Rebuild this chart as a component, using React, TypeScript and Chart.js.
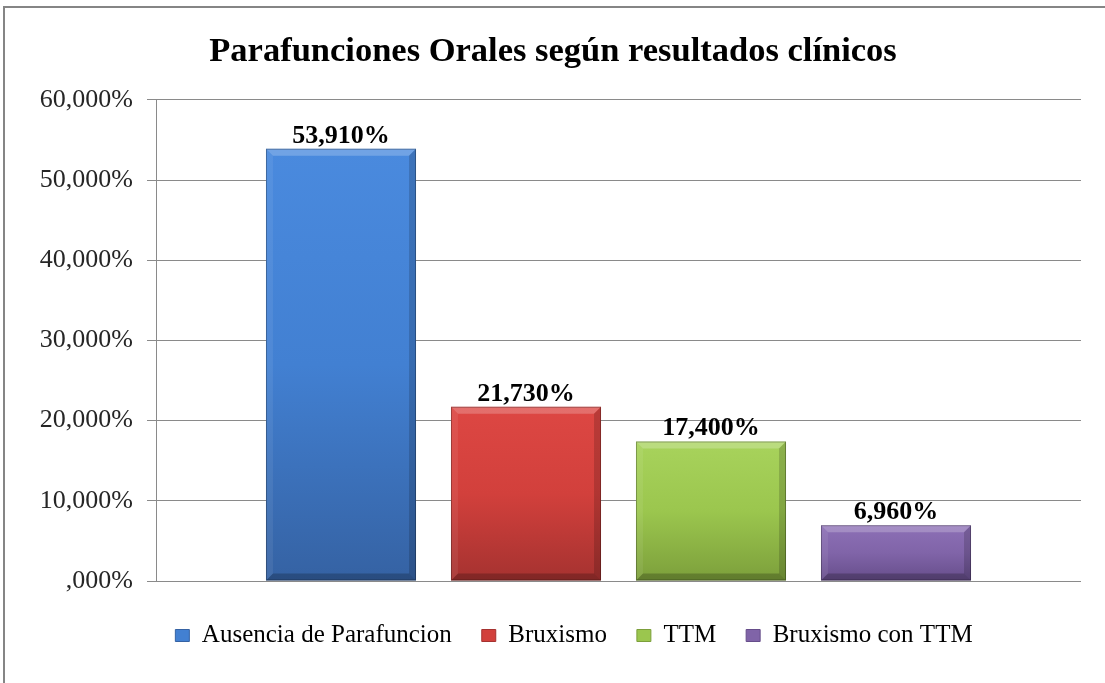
import React, { useEffect, useRef } from 'react';
import { Chart, registerables } from 'chart.js';

Chart.register(...registerables);

const categories = [''];
const seriesNames = ['Ausencia de Parafuncion', 'Bruxismo', 'TTM', 'Bruxismo con TTM'];
const seriesValues = [53.91, 21.73, 17.4, 6.96];
const seriesValueLabels = ['53,910%', '21,730%', '17,400%', '6,960%'];
const yTickValues = [0, 10, 20, 30, 40, 50, 60];
const yTickLabels = [',000%', '10,000%', '20,000%', '30,000%', '40,000%', '50,000%', '60,000%'];
const titleText = 'Parafunciones Orales según resultados clínicos';

const topColors = ['#4a8ade', '#dd4743', '#a8d35c', '#8d70b6'];
const baseColors = ['#4280d2', '#d2403c', '#9bc64e', '#8064a8'];
const bottomColors = ['#3562a3', '#a53230', '#7c9f3b', '#664d8a'];

const SERIF = "'Liberation Serif', 'Times New Roman', serif";

const bevelPlugin = {
  id: 'bevelAndLabels',
  afterLayout(chart: any) {
    const lg = chart.legend;
    if (lg) {
      lg.left += 21;
      lg.right += 21;
    }
  },
  beforeDraw(chart: any) {
    const c = chart.ctx;
    c.save();
    c.fillStyle = '#ffffff';
    c.fillRect(0, 0, chart.width, chart.height);
    c.strokeStyle = '#858585';
    c.lineWidth = 2;
    c.beginPath();
    c.moveTo(4, chart.height);
    c.lineTo(4, 7);
    c.lineTo(chart.width, 7);
    c.stroke();
    c.restore();
  },
  afterDatasetsDraw(chart: any) {
    const c = chart.ctx;
    chart.data.datasets.forEach((ds: any, i: number) => {
      const meta = chart.getDatasetMeta(i);
      meta.data.forEach((bar: any) => {
        const w = bar.width;
        const l = bar.x - w / 2;
        const r = bar.x + w / 2;
        const t = bar.y;
        const b = bar.base;
        const bv = 7;
        c.save();
        c.fillStyle = 'rgba(255,255,255,0.22)';
        c.beginPath();
        c.moveTo(l, t); c.lineTo(r, t); c.lineTo(r - bv, t + bv); c.lineTo(l + bv, t + bv); c.closePath(); c.fill();
        c.fillStyle = 'rgba(255,255,255,0.07)';
        c.beginPath();
        c.moveTo(l, t); c.lineTo(l + bv, t + bv); c.lineTo(l + bv, b - bv); c.lineTo(l, b); c.closePath(); c.fill();
        c.fillStyle = 'rgba(0,0,0,0.16)';
        c.beginPath();
        c.moveTo(r, t); c.lineTo(r, b); c.lineTo(r - bv, b - bv); c.lineTo(r - bv, t + bv); c.closePath(); c.fill();
        c.fillStyle = 'rgba(0,0,0,0.22)';
        c.beginPath();
        c.moveTo(l, b); c.lineTo(r, b); c.lineTo(r - bv, b - bv); c.lineTo(l + bv, b - bv); c.closePath(); c.fill();
        c.strokeStyle = 'rgba(0,0,0,0.28)';
        c.lineWidth = 1;
        c.strokeRect(l + 0.5, t + 0.5, w - 1, b - t - 1);
        c.fillStyle = '#000000';
        c.font = `bold 26px ${SERIF}`;
        c.textAlign = 'center';
        c.textBaseline = 'alphabetic';
        c.fillText(seriesValueLabels[i], bar.x, t - 6);
        c.restore();
      });
    });
  },
};

export default function App() {
  const canvasRef = useRef<HTMLCanvasElement | null>(null);

  useEffect(() => {
    if (!canvasRef.current) return;
    const chart = new Chart(canvasRef.current, {
      type: 'bar',
      data: {
        labels: categories,
        datasets: seriesNames.map((name, i) => ({
          label: name,
          data: [seriesValues[i]],
          backgroundColor: (ctx: any) => {
            const ch = ctx.chart;
            const ys = ch.scales && ch.scales.y;
            if (!ys || !ch.chartArea) return baseColors[i];
            const top = ys.getPixelForValue(seriesValues[i]);
            const bottom = ys.getPixelForValue(0);
            const g = ch.ctx.createLinearGradient(0, top, 0, bottom);
            g.addColorStop(0, topColors[i]);
            g.addColorStop(0.5, baseColors[i]);
            g.addColorStop(1, bottomColors[i]);
            return g;
          },
          borderWidth: 0,
          categoryPercentage: 0.8,
          barPercentage: 0.811,
        })),
      },
      options: {
        responsive: false,
        animation: false,
        devicePixelRatio: 1,
        layout: { padding: { top: 0, left: 25, right: 24, bottom: 25 } },
        plugins: {
          title: {
            display: true,
            text: titleText,
            color: '#000000',
            font: { family: SERIF, size: 34.5, weight: 'bold' },
            padding: { top: 31.5, bottom: 27 },
          },
          legend: {
            display: true,
            position: 'bottom',
            title: { display: true, text: ' ', font: { size: 12, lineHeight: 1 }, padding: 0 },
            labels: {
              boxWidth: 14,
              boxHeight: 12,
              padding: 30,
              color: '#000000',
              font: { family: SERIF, size: 25 },
              generateLabels: (ch: any) =>
                ch.data.datasets.map((ds: any, i: number) => ({
                  text: ds.label,
                  fillStyle: baseColors[i],
                  strokeStyle: bottomColors[i],
                  lineWidth: 1,
                  hidden: false,
                  datasetIndex: i,
                  fontColor: '#000000',
                })),
            },
          },
          tooltip: { enabled: false },
        },
        scales: {
          x: { display: false },
          y: {
            min: 0,
            max: 60,
            ticks: {
              stepSize: 10,
              padding: 14,
              color: '#262626',
              font: { family: SERIF, size: 26 },
              callback: (v: any) => {
                const idx = yTickValues.indexOf(Number(v));
                return idx >= 0 ? yTickLabels[idx] : '';
              },
            },
            grid: { color: '#8a8a8a', lineWidth: 1, tickLength: 9, drawTicks: true },
            border: { color: '#8a8a8a', width: 1 },
            afterFit: (s: any) => {
              s.width = 131;
            },
          },
        },
      },
      plugins: [bevelPlugin],
    } as any);
    return () => chart.destroy();
  }, []);

  return (
    <div style={{ position: 'absolute', left: 0, top: 0, width: 1105, height: 683 }}>
      <canvas ref={canvasRef} width={1105} height={683} style={{ display: 'block' }} />
    </div>
  );
}
